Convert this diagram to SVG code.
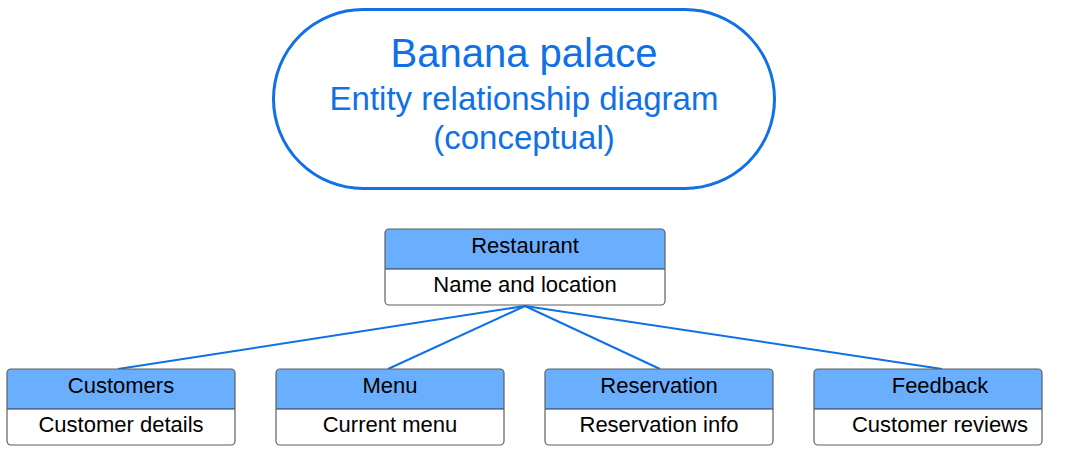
<svg xmlns="http://www.w3.org/2000/svg" width="1074" height="456" viewBox="0 0 1074 456">
<style>
.t{font-family:"Liberation Sans",Arial,sans-serif;text-anchor:middle;}
.title{fill:#1071e5;}
.hd{fill:#6aaefe;}
.bx{fill:#ffffff;}
.frame{fill:none;stroke:#5f5f5f;stroke-width:1.2;}
.div{stroke:#333333;stroke-width:1.2;}
.lbl{font-size:22px;fill:#000;}
.conn line{stroke:#1071e5;stroke-width:2;}
</style>
<rect width="1074" height="456" fill="#ffffff"/>
<g id="title">
<rect x="273.5" y="9.5" width="501" height="179" rx="89.5" ry="89.5" fill="#ffffff" stroke="#1071e5" stroke-width="3"/>
<text class="t title" x="524" y="67" font-size="40">Banana palace</text>
<text class="t title" x="524" y="110" font-size="33">Entity relationship diagram</text>
<text class="t title" x="524" y="149" font-size="33">(conceptual)</text>
</g>
<g id="connectors" class="conn">
<line x1="525" y1="306" x2="118" y2="369"/>
<line x1="525" y1="306" x2="388" y2="369"/>
<line x1="525" y1="306" x2="660" y2="369"/>
<line x1="525" y1="306" x2="942" y2="369"/>
</g>
<g id="restaurant">
<rect class="bx" x="385" y="229" width="280" height="76" rx="4"/>
<path class="hd" d="M389 229 H661 A4 4 0 0 1 665 233 V269 H385 V233 A4 4 0 0 1 389 229 Z"/>
<line class="div" x1="385" y1="269" x2="665" y2="269"/>
<rect class="frame" x="385" y="229" width="280" height="76" rx="4"/>
<text class="t lbl" x="525" y="253">Restaurant</text>
<text class="t lbl" x="525" y="292">Name and location</text>
</g>
<g id="customers">
<rect class="bx" x="7" y="369" width="228" height="76" rx="4"/>
<path class="hd" d="M11 369 H231 A4 4 0 0 1 235 373 V409 H7 V373 A4 4 0 0 1 11 369 Z"/>
<line class="div" x1="7" y1="409" x2="235" y2="409"/>
<rect class="frame" x="7" y="369" width="228" height="76" rx="4"/>
<text class="t lbl" x="121" y="393">Customers</text>
<text class="t lbl" x="121" y="432">Customer details</text>
</g>
<g id="menu">
<rect class="bx" x="276" y="369" width="228" height="76" rx="4"/>
<path class="hd" d="M280 369 H500 A4 4 0 0 1 504 373 V409 H276 V373 A4 4 0 0 1 280 369 Z"/>
<line class="div" x1="276" y1="409" x2="504" y2="409"/>
<rect class="frame" x="276" y="369" width="228" height="76" rx="4"/>
<text class="t lbl" x="390" y="393">Menu</text>
<text class="t lbl" x="390" y="432">Current menu</text>
</g>
<g id="reservation">
<rect class="bx" x="545" y="369" width="228" height="76" rx="4"/>
<path class="hd" d="M549 369 H769 A4 4 0 0 1 773 373 V409 H545 V373 A4 4 0 0 1 549 369 Z"/>
<line class="div" x1="545" y1="409" x2="773" y2="409"/>
<rect class="frame" x="545" y="369" width="228" height="76" rx="4"/>
<text class="t lbl" x="659" y="393">Reservation</text>
<text class="t lbl" x="659" y="432">Reservation info</text>
</g>
<g id="feedback">
<rect class="bx" x="814" y="369" width="228" height="76" rx="4"/>
<path class="hd" d="M818 369 H1038 A4 4 0 0 1 1042 373 V409 H814 V373 A4 4 0 0 1 818 369 Z"/>
<line class="div" x1="814" y1="409" x2="1042" y2="409"/>
<rect class="frame" x="814" y="369" width="228" height="76" rx="4"/>
<text class="t lbl" x="940" y="393">Feedback</text>
<text class="t lbl" x="940" y="432">Customer reviews</text>
</g>
</svg>
